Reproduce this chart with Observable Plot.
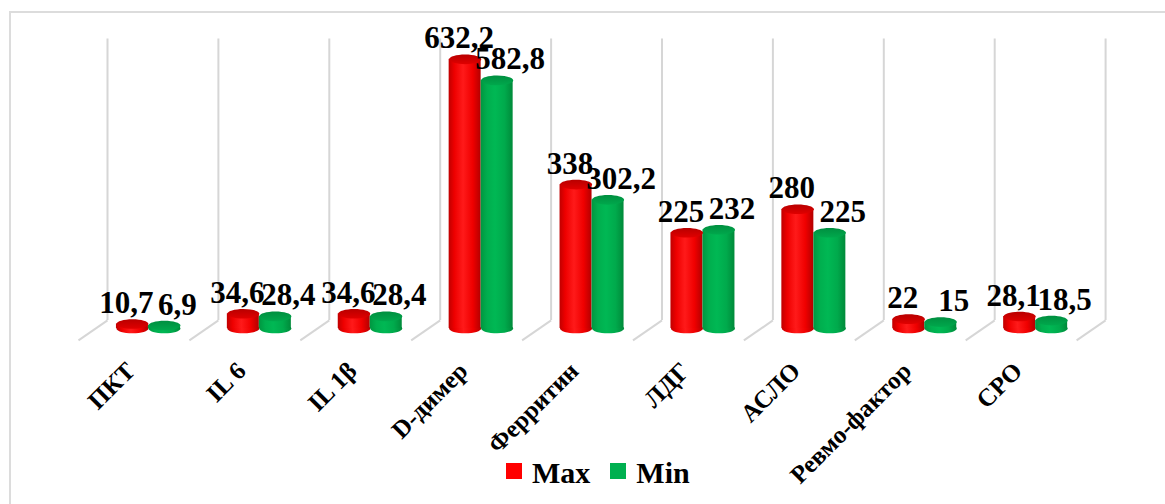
<!DOCTYPE html>
<html>
<head>
<meta charset="utf-8">
<script src="https://cdn.jsdelivr.net/npm/d3@7"></script>
<script src="https://cdn.jsdelivr.net/npm/@observablehq/plot@0.6"></script>
<style>
  html, body { margin: 0; padding: 0; background: #fff; }
  #chart { position: relative; width: 1165px; height: 504px; overflow: hidden; font-family: "Liberation Serif", "Times New Roman", serif; }
  #frame { position: absolute; left: 9px; top: 11px; width: 1300px; height: 600px; border-left: 2px solid #dcdcdc; border-top: 2px solid #dcdcdc; }
  #plot { position: absolute; left: 0; top: 0; }
  #legend { position: absolute; left: 506px; top: 458px; display: flex; align-items: flex-start; font-size: 30px; font-weight: bold; line-height: 30px; color: #000; }
  #legend .sw { width: 16px; height: 16px; margin-top: 5px; margin-right: 10px; }
  #legend .item { display: flex; align-items: flex-start; margin-right: 20px; }
</style>
</head>
<body>
<div id="chart">
  <div id="frame"></div>
  <div id="plot"></div>
  <div id="legend"></div>
</div>
<script>
// Laboratory markers, maximum and minimum values
const categories = ["ПКТ", "IL 6", "IL 1β", "D-димер", "Ферритин", "ЛДГ", "АСЛО", "Ревмо-фактор", "СРО"];
const maxValues = [10.7, 34.6, 34.6, 632.2, 338, 225, 280, 22, 28.1];
const minValues = [6.9, 28.4, 28.4, 582.8, 302.2, 232, 225, 15, 18.5];
const seriesNames = ["Max", "Min"];
const seriesColors = ["#ff0000", "#00b050"];

const W = 1165, H = 448;
const left = 92.5, right = 1090.6;               // outer edges of the first and last category slots
const unit = (right - left) / categories.length; // pixels per category slot
const barW = 32 / unit;                          // width of one cylinder, in slot units
const depth = 14.5 / unit;                       // horizontal shift of the back wall
const serif = "'Liberation Serif', 'Times New Roman', serif";

const rows = [];
categories.forEach((c, i) => {
  rows.push({cat: c, i, series: "Max", value: maxValues[i], x1: i - barW, x2: i, xc: i - barW / 2});
  rows.push({cat: c, i, series: "Min", value: minValues[i], x1: i, x2: i + barW, xc: i + barW / 2});
});
const maxRows = rows.filter(d => d.series === "Max");
const minRows = rows.filter(d => d.series === "Min");

// Flattened ellipse used for cylinder caps and bases
const ellipse = {
  draw(ctx, size) {
    const rx = Math.sqrt(size / Math.PI), ry = rx * 0.3, k = 0.5523;
    ctx.moveTo(rx, 0);
    ctx.bezierCurveTo(rx, k * ry, k * rx, ry, 0, ry);
    ctx.bezierCurveTo(-k * rx, ry, -rx, k * ry, -rx, 0);
    ctx.bezierCurveTo(-rx, -k * ry, -k * rx, -ry, 0, -ry);
    ctx.bezierCurveTo(k * rx, -ry, rx, -k * ry, rx, 0);
    ctx.closePath();
  }
};

const bodyFill = s => s === "Max" ? "url(#cylRed)" : "url(#cylGreen)";
const capFill = s => s === "Max" ? "url(#capRed)" : "url(#capGreen)";
const fmt = v => String(v).replace(".", ",");
const boundaries = d3.range(categories.length + 1).map(i => i - 0.5);
const grid = "#d6d6d6";

const plot = Plot.plot({
  width: W,
  height: H,
  marginLeft: left,
  marginRight: W - right,
  marginTop: 30,
  marginBottom: H - 328,
  x: {type: "linear", domain: [-0.5, categories.length - 0.5], axis: null},
  y: {domain: [0, 700], axis: null},
  style: {fontFamily: serif, background: "transparent", overflow: "visible"},
  marks: [
    // back wall dividers and floor edges
    Plot.ruleX(boundaries, {x: d => d, y1: 19, y2: 680, dx: 14.5, stroke: grid, strokeWidth: 2}),
    Plot.link(boundaries, {x1: d => d + depth, x2: d => d - depth, y1: 19, y2: -28, stroke: grid, strokeWidth: 2}),
    // cylinder bases
    Plot.dot(rows, {x: "xc", y: 0, r: 16, symbol: ellipse, fill: d => bodyFill(d.series), stroke: "none"}),
    // cylinder bodies
    ...seriesNames.map(s => Plot.rectY(rows.filter(d => d.series === s), {x1: "x1", x2: "x2", y1: 0, y2: "value", fill: bodyFill(s)})),
    // cylinder tops
    ...seriesNames.map(s => Plot.dot(rows.filter(d => d.series === s), {x: "xc", y: "value", r: 16, symbol: ellipse, fill: capFill(s), stroke: "none"})),
    // value labels
    Plot.text(maxRows, {x: "xc", y: "value", text: d => fmt(d.value), dx: -6, dy: -11, lineAnchor: "bottom", fontFamily: serif, fontSize: 31, fontWeight: "bold", fill: "#000"}),
    Plot.text(minRows, {x: "xc", y: "value", text: d => fmt(d.value), dx: 13, dy: -11, lineAnchor: "bottom", fontFamily: serif, fontSize: 31, fontWeight: "bold", fill: "#000"}),
    // category labels
    Plot.text(categories, {x: (d, i) => i, frameAnchor: "bottom", text: d => d, rotate: -45, textAnchor: "end", dx: -12, dy: 44, fontFamily: serif, fontSize: 25, fontWeight: "bold", fill: "#000"})
  ]
});

plot.insertAdjacentHTML("afterbegin", `
<defs>
  <linearGradient id="cylRed" x1="0" x2="1" y1="0" y2="0">
    <stop offset="0" stop-color="#c00000"/>
    <stop offset="0.18" stop-color="#ee0000"/>
    <stop offset="0.45" stop-color="#ff1a1a"/>
    <stop offset="0.75" stop-color="#f00000"/>
    <stop offset="1" stop-color="#b40000"/>
  </linearGradient>
  <linearGradient id="cylGreen" x1="0" x2="1" y1="0" y2="0">
    <stop offset="0" stop-color="#009640"/>
    <stop offset="0.2" stop-color="#00ae4e"/>
    <stop offset="0.45" stop-color="#00b854"/>
    <stop offset="0.75" stop-color="#00aa4c"/>
    <stop offset="1" stop-color="#008a3a"/>
  </linearGradient>
  <linearGradient id="capRed" x1="0" x2="0" y1="0" y2="1">
    <stop offset="0" stop-color="#b80000"/>
    <stop offset="1" stop-color="#e00000"/>
  </linearGradient>
  <linearGradient id="capGreen" x1="0" x2="0" y1="0" y2="1">
    <stop offset="0" stop-color="#008f40"/>
    <stop offset="1" stop-color="#00a84c"/>
  </linearGradient>
</defs>`);

document.getElementById("plot").appendChild(plot);

// legend
const legend = d3.select("#legend");
seriesNames.forEach((s, i) => {
  const item = legend.append("div").attr("class", "item");
  item.append("div").attr("class", "sw").style("background", seriesColors[i]);
  item.append("span").text(s);
});
</script>
</body>
</html>
